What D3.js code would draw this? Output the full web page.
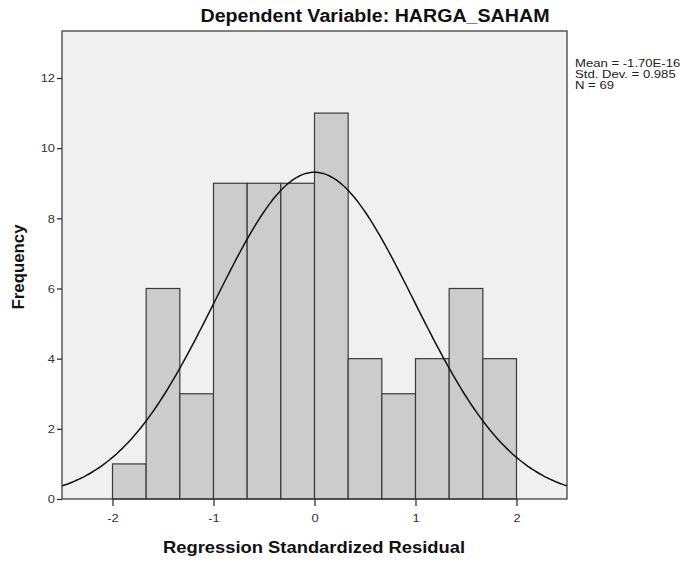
<!DOCTYPE html>
<html><head><meta charset="utf-8">
<script src="https://cdn.jsdelivr.net/npm/d3@7"></script>
<style>
body{margin:0;background:#fff;}
svg text{font-family:"Liberation Sans", Arial, sans-serif;}
</style></head>
<body><svg id="c" width="681" height="561"></svg>
<script>
const binStarts = [-2, -1.6667, -1.3333, -1, -0.6667, -0.3333, 0, 0.3333, 0.6667, 1, 1.3333, 1.6667];
const binWidth = 1/3;
const counts = [1, 6, 3, 9, 9, 9, 11, 4, 3, 4, 6, 4];
const xTicks = [-2, -1, 0, 1, 2];
const yTicks = [0, 2, 4, 6, 8, 10, 12];
const statsMean = -1.70e-16, statsSD = 0.985, statsN = 69;
const legendLines = ["Mean = -1.70E-16", "Std. Dev. = 0.985", "N = 69"];
const titleText = "Dependent Variable: HARGA_SAHAM";
const xTitle = "Regression Standardized Residual";
const yTitle = "Frequency";

const svg = d3.select("#c");
const L = 62, R = 567, T = 31, B = 499;
const x = d3.scaleLinear().domain([-2.5, 2.5]).range([L, R]);
const y = d3.scaleLinear().domain([0, 13.34]).range([B, T]);

function stretch(sel, f) {
  sel.each(function () {
    const len = this.getComputedTextLength();
    d3.select(this).attr("textLength", len * f).attr("lengthAdjust", "spacingAndGlyphs");
  });
}

svg.append("rect").attr("x", L).attr("y", T).attr("width", R - L).attr("height", B - T)
  .attr("fill", "#f0f0f0");

svg.append("g").selectAll("rect").data(counts).join("rect")
  .attr("x", (d, i) => x(binStarts[i]))
  .attr("y", d => y(d))
  .attr("width", (d, i) => x(binStarts[i] + binWidth) - x(binStarts[i]))
  .attr("height", d => y(0) - y(d))
  .attr("fill", "#cccccc").attr("stroke", "#3a3a3a").attr("stroke-width", 1.2);

// normal curve from the stated statistics
const pts = d3.range(0, 201).map(k => {
  const xv = -2.5 + k * 5 / 200;
  const z = (xv - statsMean) / statsSD;
  return [xv, statsN * binWidth * Math.exp(-0.5 * z * z) / (statsSD * Math.sqrt(2 * Math.PI))];
});
svg.append("path").datum(pts)
  .attr("d", d3.line().x(d => x(d[0])).y(d => y(d[1])).curve(d3.curveBasis))
  .attr("fill", "none").attr("stroke", "#111").attr("stroke-width", 1.5);

svg.append("rect").attr("x", L).attr("y", T).attr("width", R - L).attr("height", B - T)
  .attr("fill", "none").attr("stroke", "#333").attr("stroke-width", 1.2);

const ya = svg.append("g").attr("transform", `translate(${L},0)`)
  .call(d3.axisLeft(y).tickValues(yTicks).tickSize(5).tickPadding(2).tickFormat(d => String(d)));
ya.select(".domain").remove();
ya.selectAll("line").attr("stroke", "#333").attr("stroke-width", 1.3);
ya.selectAll("text").attr("font-size", 11.5).attr("fill", "#333");
stretch(ya.selectAll("text"), 1.12);

const xa = svg.append("g").attr("transform", `translate(0,${B})`)
  .call(d3.axisBottom(x).tickValues(xTicks).tickSize(7).tickPadding(8).tickFormat(d => String(d)));
xa.select(".domain").remove();
xa.selectAll("line").attr("stroke", "#333").attr("stroke-width", 1.3);
xa.selectAll("text").attr("font-size", 11.5).attr("fill", "#333");
stretch(xa.selectAll("text"), 1.12);

const t1 = svg.append("text").attr("x", 375).attr("y", 22).attr("text-anchor", "middle")
  .attr("font-size", 18).attr("font-weight", "bold").attr("fill", "#111").text(titleText);
t1.attr("textLength", 349).attr("lengthAdjust", "spacingAndGlyphs");
const t2 = svg.append("text").attr("x", 314).attr("y", 553).attr("text-anchor", "middle")
  .attr("font-size", 16.5).attr("font-weight", "bold").attr("fill", "#111").text(xTitle);
t2.attr("textLength", 302).attr("lengthAdjust", "spacingAndGlyphs");
const t3 = svg.append("text").attr("transform", "translate(24,267) rotate(-90)").attr("text-anchor", "middle")
  .attr("font-size", 16.5).attr("font-weight", "bold").attr("fill", "#111").text(yTitle);
t3.attr("textLength", 85).attr("lengthAdjust", "spacingAndGlyphs");

const lg = svg.append("g").selectAll("text").data(legendLines).join("text")
  .attr("x", 575).attr("y", (d, i) => 67 + i * 11)
  .attr("font-size", 11.5).attr("fill", "#222")
  .text(d => d);
stretch(lg, 1.14);
</script></body></html>
